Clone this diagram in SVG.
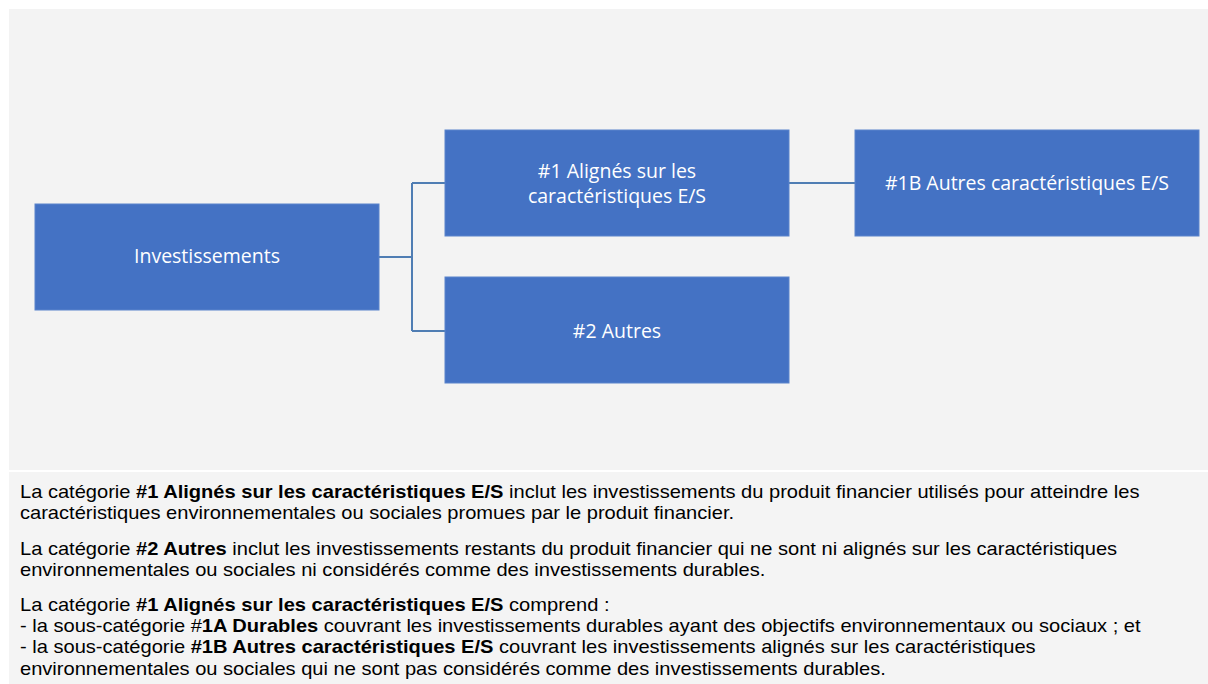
<svg xmlns="http://www.w3.org/2000/svg" width="1208" height="684" viewBox="0 0 1208 684">
<style>
.box{fill:#4472c4;stroke:#5a84cc;stroke-width:1}
.bt{font-family:"Open Sans","Noto Sans",sans-serif;font-size:19.5px;fill:#ffffff;text-anchor:middle}
.conn{fill:none;stroke:#4f7db3;stroke-width:2}
.tx{font-family:"Liberation Sans",Arial,sans-serif;font-size:18.6px;fill:#000000}
.b{font-weight:bold}
</style>
<rect x="0" y="0" width="1208" height="684" fill="#ffffff"/>
<rect x="9" y="9" width="1199" height="461" fill="#f3f3f3"/>
<rect x="9" y="472" width="1199" height="212" fill="#f4f4f4"/>
<g id="connectors">
<path class="conn" d="M379,257 H412 M412,183 V331 M412,183 H445 M412,331 H445 M789,183 H855"/>
</g>
<g id="node-investissements">
<rect class="box" x="35" y="204" width="344" height="106"/>
<text class="bt" x="207" y="263">Investissements</text>
</g>
<g id="node-1">
<rect class="box" x="445" y="130" width="344" height="106"/>
<text class="bt" x="617" y="178">#1 Alignés sur les</text>
<text class="bt" x="617" y="203">caractéristiques E/S</text>
</g>
<g id="node-2">
<rect class="box" x="445" y="277" width="344" height="106"/>
<text class="bt" x="617" y="338">#2 Autres</text>
</g>
<g id="node-1b">
<rect class="box" x="855" y="130" width="344" height="106"/>
<text class="bt" x="1027" y="190">#1B Autres caractéristiques E/S</text>
</g>
<g id="legend" transform="scale(1.08 1)">
<text class="tx" x="18.5" y="498">La catégorie <tspan class="b">#1 Alignés sur les caractéristiques E/S</tspan> inclut les investissements du produit financier utilisés pour atteindre les</text>
<text class="tx" x="18.5" y="519">caractéristiques environnementales ou sociales promues par le produit financier.</text>
<text class="tx" x="18.5" y="555">La catégorie <tspan class="b">#2 Autres</tspan> inclut les investissements restants du produit financier qui ne sont ni alignés sur les caractéristiques</text>
<text class="tx" x="18.5" y="576">environnementales ou sociales ni considérés comme des investissements durables.</text>
<text class="tx" x="18.5" y="611">La catégorie <tspan class="b">#1 Alignés sur les caractéristiques E/S</tspan> comprend :</text>
<text class="tx" x="18.5" y="632">- la sous-catégorie #<tspan class="b">1A Durables</tspan> couvrant les investissements durables ayant des objectifs environnementaux ou sociaux ; et</text>
<text class="tx" x="18.5" y="653">- la sous-catégorie <tspan class="b">#1B Autres caractéristiques E/S</tspan> couvrant les investissements alignés sur les caractéristiques</text>
<text class="tx" x="18.5" y="675">environnementales ou sociales qui ne sont pas considérés comme des investissements durables.</text>
</g>
</svg>
